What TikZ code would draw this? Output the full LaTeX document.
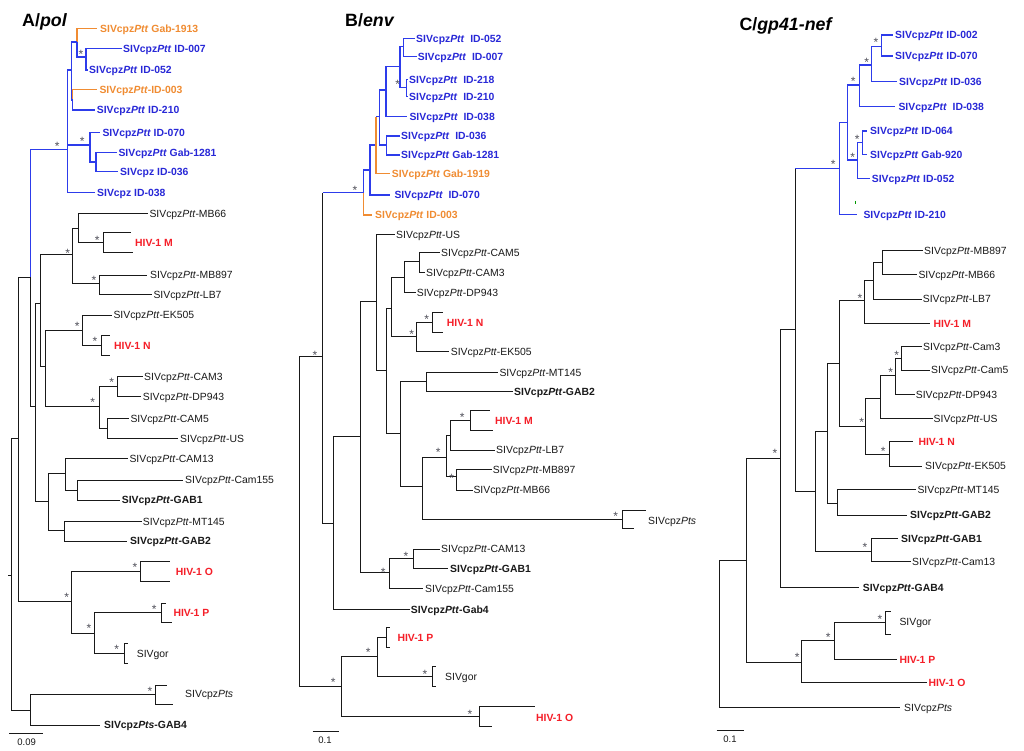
\documentclass[tikz,border=0pt]{standalone}
\usepackage{fontspec}
\setmainfont{Liberation Sans}
\definecolor{tblue}{RGB}{45,60,235}
\definecolor{lblue}{RGB}{40,40,215}
\definecolor{torange}{RGB}{240,140,50}
\definecolor{tred}{RGB}{245,30,40}
\definecolor{tgray}{RGB}{80,80,90}
\definecolor{tblack}{RGB}{25,25,25}
\newcommand\ptt{\textit{Ptt}}
\newcommand\pts{\textit{Pts}}
\newcommand\tedge[3][ln]{\draw[#1] (#2) |- (#3);}
\newcommand\leaf[6]{\coordinate (#1) at (#3,#4); \node[#2] (#1-t) at (#5,#4) {#6};}
\newcommand\st[3]{\node[star] (#1) at (#2,#3) {*};}
\tikzset{
  ln/.style={draw=tblack, line width=1pt},
  bl/.style={draw=tblue, line width=1.2pt},
  or/.style={draw=torange, line width=1.2pt},
  lab/.style={anchor=base west, inner sep=0pt, yshift=-3.7pt, font=\fontsize{10.4}{12}\selectfont},
  klab/.style={lab, text=tblack},
  kblab/.style={lab, text=tblack, font=\fontsize{10.4}{12}\selectfont\bfseries},
  blab/.style={lab, text=lblue, font=\fontsize{10.4}{12}\selectfont\bfseries},
  olab/.style={lab, text=torange, font=\fontsize{10.4}{12}\selectfont\bfseries},
  rlab/.style={lab, text=tred, font=\fontsize{10.4}{12}\selectfont\bfseries},
  star/.style={inner sep=0pt, text=tgray, yshift=-2.6pt, font=\fontsize{12}{12}\selectfont},
  sc/.style={inner sep=0pt, text=tblack, font=\fontsize{9.5}{10}\selectfont},
  title/.style={anchor=base west, inner sep=0pt, text=black, font=\fontsize{17.8}{20}\selectfont\bfseries}
}
\begin{document}
\begin{tikzpicture}[x=1pt,y=-1pt]
\useasboundingbox (0,0) rectangle (1024,750);
\fill[white] (0,0) rectangle (1024,750);

%================ PANEL A =================
\node[title] (tA) at (22,26.7) {A/\textit{pol}};
\leaf{a1913}{olab}{96.7}{28.3}{100}{SIVcpz\ptt{} Gab-1913}
\leaf{a007}{blab}{121.7}{48.3}{123}{SIVcpz\ptt{} ID-007}
\leaf{a052}{blab}{87.5}{70}{89}{SIVcpz\ptt{} ID-052}
\leaf{a003}{olab}{96.7}{89.3}{99.3}{SIVcpz\ptt-ID-003}
\leaf{a210}{blab}{95}{110}{96.7}{SIVcpz\ptt{} ID-210}
\leaf{a070}{blab}{100}{132.3}{102.3}{SIVcpz\ptt{} ID-070}
\leaf{a1281}{blab}{116.7}{152.7}{118.3}{SIVcpz\ptt{} Gab-1281}
\leaf{a036}{blab}{118.3}{171.7}{120}{SIVcpz ID-036}
\leaf{a038}{blab}{95}{192.3}{97}{SIVcpz ID-038}
\coordinate (an1) at (86,57);
\coordinate (anA) at (77,42);
\coordinate (anC) at (72.5,100);
\coordinate (anB) at (71.7,70);
\coordinate (anD) at (96,162);
\coordinate (anE) at (90,145);
\coordinate (anF) at (67.5,149.3);
\coordinate (anI) at (30.7,277.3);
\tedge[bl]{an1}{a007} \tedge[bl]{an1}{a052}
\tedge[or]{anA}{a1913} \tedge[bl]{anA}{an1}
\tedge[or]{anC}{a003} \tedge[bl]{anC}{a210}
\tedge[bl]{anB}{anA} \tedge[bl]{anB}{anC}
\tedge[bl]{anD}{a1281} \tedge[bl]{anD}{a036}
\tedge[bl]{anE}{a070} \tedge[bl]{anE}{anD}
\tedge[bl]{anF}{anB} \tedge[bl]{anF}{anE} \tedge[bl]{anF}{a038}
\tedge[bl]{anI}{anF}

\coordinate (anJ) at (35,406.7);
\coordinate (anL) at (40,303.3);
\coordinate (anMc) at (72.7,254.3);
\coordinate (anM1) at (78.3,228.3);
\coordinate (anHM) at (103.3,242.7);
\coordinate (anM2) at (99.3,283.3);
\coordinate (anN) at (45.7,366.7);
\coordinate (anEK) at (82.7,330);
\coordinate (anHN) at (101.7,345);
\coordinate (anCAM) at (99.3,406.7);
\coordinate (anC3) at (117.3,386.7);
\coordinate (anC5) at (107.3,428.3);
\coordinate (anM) at (48.3,501.7);
\coordinate (anC13) at (65,473.3);
\coordinate (anG1) at (77.3,490);
\coordinate (anMT) at (64,530);
\coordinate (anK) at (18.3,438.3);
\coordinate (anOP) at (71,601.7);
\coordinate (anHO) at (140,571.7);
\coordinate (anPg) at (94.3,633.3);
\coordinate (anHP) at (161,612.7);
\coordinate (anGor) at (124.3,653.3);
\coordinate (anR) at (11.7,575);
\coordinate (aroot) at (8.3,575);
\coordinate (anPts) at (30,710);
\coordinate (anPs) at (155,694);

\leaf{aMB66}{klab}{148.3}{213.3}{149.3}{SIVcpz\ptt-MB66}
\coordinate (aHMa) at (130.7,232.3); \coordinate (aHMb) at (133.3,252.7);
\node[rlab] (aHM) at (135,242.7) {HIV-1 M};
\leaf{aMB897}{klab}{146.7}{275}{150}{SIVcpz\ptt-MB897}
\leaf{aLB7}{klab}{151.7}{294.3}{153.3}{SIVcpz\ptt-LB7}
\leaf{aEK505}{klab}{111.7}{315}{113.3}{SIVcpz\ptt-EK505}
\coordinate (aHNa) at (110,335); \coordinate (aHNb) at (110,355);
\node[rlab] (aHN) at (114,345.5) {HIV-1 N};
\leaf{aCAM3}{klab}{142.7}{376.7}{144}{SIVcpz\ptt-CAM3}
\leaf{aDP943}{klab}{141}{396.7}{142.7}{SIVcpz\ptt-DP943}
\leaf{aCAM5}{klab}{129}{418.3}{130.3}{SIVcpz\ptt-CAM5}
\leaf{aUS}{klab}{178.3}{438.3}{180}{SIVcpz\ptt-US}
\leaf{aCAM13}{klab}{128.3}{458.3}{129.3}{SIVcpz\ptt-CAM13}
\leaf{aCam155}{klab}{183.3}{480}{185}{SIVcpz\ptt-Cam155}
\leaf{aGAB1}{kblab}{120}{500}{121.7}{SIVcpz\ptt-GAB1}
\leaf{aMT145}{klab}{141.7}{521.7}{142.7}{SIVcpz\ptt-MT145}
\leaf{aGAB2}{kblab}{126.7}{541}{130}{SIVcpz\ptt-GAB2}
\coordinate (aHOa) at (170,561.7); \coordinate (aHOb) at (170,581.7);
\node[rlab] (aHO) at (175.7,571.7) {HIV-1 O};
\coordinate (aHPa) at (165.7,603.3); \coordinate (aHPb) at (171.7,622.7);
\node[rlab] (aHP) at (173.3,613) {HIV-1 P};
\coordinate (aGora) at (128.3,643.3); \coordinate (aGorb) at (128.3,663.3);
\node[klab] (aGor) at (136.7,653.3) {SIVgor};
\coordinate (aPsa) at (166.7,685); \coordinate (aPsb) at (173.3,704);
\node[klab] (aPs) at (185,694) {SIVcpz\pts};
\leaf{aGAB4}{kblab}{100}{725}{104}{SIVcpz\pts-GAB4}

\tedge{anI}{anJ}
\tedge{anJ}{anL} \tedge{anJ}{anM}
\tedge{anL}{anMc} \tedge{anL}{anN}
\tedge{anMc}{anM1} \tedge{anMc}{anM2}
\tedge{anM1}{aMB66} \tedge{anM1}{anHM}
\tedge{anHM}{aHMa} \tedge{anHM}{aHMb}
\tedge{anM2}{aMB897} \tedge{anM2}{aLB7}
\tedge{anN}{anEK} \tedge{anN}{anCAM}
\tedge{anEK}{aEK505} \tedge{anEK}{anHN}
\tedge{anHN}{aHNa} \tedge{anHN}{aHNb}
\tedge{anCAM}{anC3} \tedge{anCAM}{anC5}
\tedge{anC3}{aCAM3} \tedge{anC3}{aDP943}
\tedge{anC5}{aCAM5} \tedge{anC5}{aUS}
\tedge{anM}{anC13} \tedge{anM}{anMT}
\tedge{anC13}{aCAM13} \tedge{anC13}{anG1}
\tedge{anG1}{aCam155} \tedge{anG1}{aGAB1}
\tedge{anMT}{aMT145} \tedge{anMT}{aGAB2}
\tedge{anK}{anI} \tedge{anK}{anOP}
\tedge{anOP}{anHO} \tedge{anOP}{anPg}
\tedge{anHO}{aHOa} \tedge{anHO}{aHOb}
\tedge{anPg}{anHP} \tedge{anPg}{anGor}
\tedge{anHP}{aHPa} \tedge{anHP}{aHPb}
\tedge{anGor}{aGora} \tedge{anGor}{aGorb}
\tedge{anR}{anK} \tedge{anR}{anPts}
\draw[ln] (aroot) -- (anR);
\tedge{anPts}{anPs} \tedge{anPts}{aGAB4}
\tedge{anPs}{aPsa} \tedge{anPs}{aPsb}

\st{sa1}{81}{52} \st{sa2}{57.3}{143.3} \st{sa3}{82.3}{138.3}
\st{sa4}{67.7}{250.7} \st{sa5}{97.3}{237.3} \st{sa6}{94}{277.3}
\st{sa7}{77.3}{324} \st{sa8}{95}{338.3} \st{sa9}{111.7}{380}
\st{sa10}{92.7}{400} \st{sa11}{66.7}{595} \st{sa12}{135}{565}
\st{sa13}{89}{626} \st{sa14}{154.3}{606.7} \st{sa15}{116.7}{646.7}
\st{sa16}{150}{688.3}

\coordinate (asb1) at (9.3,733.3); \coordinate (asb2) at (43.3,733.3);
\draw[ln] (asb1) -- (asb2);
\node[sc] (asbl) at (26.7,742) {0.09};

%================ PANEL B =================
\node[title] (tB) at (345,26) {B/\textit{env}};
\leaf{b052}{blab}{415}{38.3}{416}{SIVcpz\ptt\ \ ID-052}
\leaf{b007}{blab}{416.7}{56.7}{417.7}{SIVcpz\ptt\ \ ID-007}
\leaf{b218}{blab}{407.5}{79.3}{409}{SIVcpz\ptt\ \ ID-218}
\leaf{b210}{blab}{407.5}{96.7}{409}{SIVcpz\ptt\ \ ID-210}
\leaf{b038}{blab}{406.7}{116.7}{409.3}{SIVcpz\ptt\ \ ID-038}
\leaf{b036}{blab}{400}{136}{401}{SIVcpz\ptt\ \ ID-036}
\leaf{b1281}{blab}{400}{155}{401}{SIVcpz\ptt{} Gab-1281}
\leaf{b1919}{olab}{390}{173.3}{391.7}{SIVcpz\ptt{} Gab-1919}
\leaf{b070}{blab}{390}{195}{394.3}{SIVcpz\ptt\ \ ID-070}
\leaf{b003}{olab}{371.7}{215}{375}{SIVcpz\ptt{} ID-003}
\coordinate (bn1) at (403.3,46.7);
\coordinate (bn4) at (406.7,87.3);
\coordinate (bn3) at (400,66.7);
\coordinate (bn2) at (386,90);
\coordinate (bn5) at (386.7,145);
\coordinate (bnup) at (379.3,116.7);
\coordinate (bn6) at (376,145);
\coordinate (bn7) at (370,170);
\coordinate (bnR) at (363.3,192.7);
\tedge[bl]{bn1}{b052} \tedge[bl]{bn1}{b007}
\tedge[bl]{bn4}{b218} \tedge[bl]{bn4}{b210}
\tedge[bl]{bn3}{bn1} \tedge[bl]{bn3}{bn4}
\tedge[bl]{bn2}{bn3} \tedge[bl]{bn2}{b038}
\tedge[bl]{bn5}{b036} \tedge[bl]{bn5}{b1281}
\tedge[bl]{bnup}{bn2} \tedge[bl]{bnup}{bn5}
\tedge[bl]{bn7}{bn6} \tedge[bl]{bn7}{b070}
\draw[or] (bn6) -- (bn6 |- bnup);
\draw[bl] (bn6 |- bnup) -- (bnup);
\tedge[or]{bn6}{b1919}
\tedge[bl]{bnR}{bn7} \tedge[or]{bnR}{b003}

\coordinate (bnTop) at (322.7,356.7);
\coordinate (bnB) at (333.3,523.3);
\coordinate (bnC) at (360,436.7);
\coordinate (bnUS) at (376,301.7);
\coordinate (bnX) at (386.7,370);
\coordinate (bnCN) at (391.7,308.3);
\coordinate (bnCAM) at (404,277.3);
\coordinate (bnC5) at (419.3,261.7);
\coordinate (bnNE) at (416.7,336.7);
\coordinate (bnHN) at (432.7,322.7);
\coordinate (bnY) at (400,433.3);
\coordinate (bnMT) at (426,381.7);
\coordinate (bnMc) at (422.7,486.7);
\coordinate (bm1) at (446.7,457.3);
\coordinate (bm2) at (450,435);
\coordinate (bnHM) at (470,420);
\coordinate (bm3) at (456.7,476.7);
\coordinate (bnPs) at (622.7,519.3);
\coordinate (bnC13) at (389.3,572.7);
\coordinate (bnG1) at (413.3,558.3);
\coordinate (bnRoot) at (299.3,520);
\coordinate (bnPO) at (341.7,686);
\coordinate (bnPg) at (377.3,656);
\coordinate (bnHP) at (386,637.7);
\coordinate (bnGor) at (432.7,676);
\coordinate (bnHO) at (479.3,716);

\leaf{bUS}{klab}{395}{234.3}{396}{SIVcpz\ptt-US}
\leaf{bCAM5}{klab}{440}{252.7}{441}{SIVcpz\ptt-CAM5}
\leaf{bCAM3}{klab}{425}{272.7}{426}{SIVcpz\ptt-CAM3}
\leaf{bDP943}{klab}{416}{292.7}{416.7}{SIVcpz\ptt-DP943}
\coordinate (bHNa) at (442.7,312.7); \coordinate (bHNb) at (442.7,332.7);
\node[rlab] (bHN) at (446.7,323) {HIV-1 N};
\leaf{bEK505}{klab}{449.3}{351.7}{450.7}{SIVcpz\ptt-EK505}
\leaf{bMT145}{klab}{498.3}{372.7}{499.3}{SIVcpz\ptt-MT145}
\leaf{bGAB2}{kblab}{512.7}{391.7}{514}{SIVcpz\ptt-GAB2}
\coordinate (bHMa) at (490,410.7); \coordinate (bHMb) at (493.3,430.7);
\node[rlab] (bHM) at (495,421) {HIV-1 M};
\leaf{bLB7}{klab}{495}{450}{496}{SIVcpz\ptt-LB7}
\leaf{bMB897}{klab}{491.7}{469.3}{492.7}{SIVcpz\ptt-MB897}
\leaf{bMB66}{klab}{472.7}{490}{473.3}{SIVcpz\ptt-MB66}
\coordinate (bPsa) at (646,510); \coordinate (bPsb) at (634,528.3);
\node[klab] (bPs) at (648,520.5) {SIVcpz\pts};
\leaf{bCAM13}{klab}{440}{549}{441}{SIVcpz\ptt-CAM13}
\leaf{bGAB1}{kblab}{448.3}{568.3}{450}{SIVcpz\ptt-GAB1}
\leaf{bCam155}{klab}{423.3}{588.3}{425}{SIVcpz\ptt-Cam155}
\leaf{bGab4}{kblab}{410}{609.3}{410.7}{SIVcpz\ptt-Gab4}
\coordinate (bHPa) at (390,627.3); \coordinate (bHPb) at (390,647.3);
\node[rlab] (bHP) at (397.3,638) {HIV-1 P};
\coordinate (bGora) at (436,666.7); \coordinate (bGorb) at (436,686);
\node[klab] (bGor) at (445,676.5) {SIVgor};
\coordinate (bHOa) at (535,706); \coordinate (bHOb) at (491.7,726);
\node[rlab] (bHO) at (536,717.3) {HIV-1 O};

\draw[ln] (bnTop) -- (bnTop |- bnR);
\draw[bl] (bnTop |- bnR) -- (bnR);
\tedge{bnTop}{bnB}
\tedge{bnB}{bnC} \tedge{bnB}{bGab4}
\tedge{bnC}{bnUS} \tedge{bnC}{bnC13}
\tedge{bnUS}{bUS} \tedge{bnUS}{bnX}
\tedge{bnX}{bnCN} \tedge{bnX}{bnY}
\tedge{bnCN}{bnCAM} \tedge{bnCN}{bnNE}
\tedge{bnCAM}{bnC5} \tedge{bnCAM}{bDP943}
\tedge{bnC5}{bCAM5} \tedge{bnC5}{bCAM3}
\tedge{bnNE}{bnHN} \tedge{bnNE}{bEK505}
\tedge{bnHN}{bHNa} \tedge{bnHN}{bHNb}
\tedge{bnY}{bnMT} \tedge{bnY}{bnMc}
\tedge{bnMT}{bMT145} \tedge{bnMT}{bGAB2}
\tedge{bnMc}{bm1} \tedge{bnMc}{bnPs}
\tedge{bm1}{bm2} \tedge{bm1}{bm3}
\tedge{bm2}{bnHM} \tedge{bm2}{bLB7}
\tedge{bnHM}{bHMa} \tedge{bnHM}{bHMb}
\tedge{bm3}{bMB897} \tedge{bm3}{bMB66}
\tedge{bnPs}{bPsa} \tedge{bnPs}{bPsb}
\tedge{bnC13}{bnG1} \tedge{bnC13}{bCam155}
\tedge{bnG1}{bCAM13} \tedge{bnG1}{bGAB1}
\tedge{bnRoot}{bnTop} \tedge{bnRoot}{bnPO}
\tedge{bnPO}{bnPg} \tedge{bnPO}{bnHO}
\tedge{bnPg}{bnHP} \tedge{bnPg}{bnGor}
\tedge{bnHP}{bHPa} \tedge{bnHP}{bHPb}
\tedge{bnGor}{bGora} \tedge{bnGor}{bGorb}
\tedge{bnHO}{bHOa} \tedge{bnHO}{bHOb}

\st{sb1}{397.7}{81.7} \st{sb2}{355}{187.3} \st{sb3}{315}{352.7}
\st{sb4}{411.7}{331.7} \st{sb5}{426.7}{316.7} \st{sb6}{438.3}{450}
\st{sb7}{462.3}{415} \st{sb8}{451.7}{476} \st{sb9}{615.7}{513.3}
\st{sb10}{383.3}{569.3} \st{sb11}{406}{553.3} \st{sb12}{333.3}{680}
\st{sb13}{368.3}{650} \st{sb14}{425}{671.7} \st{sb15}{470}{711.7}

\coordinate (bsb1) at (312.7,731.7); \coordinate (bsb2) at (339.3,731.7);
\draw[ln] (bsb1) -- (bsb2);
\node[sc] (bsbl) at (325,740.5) {0.1};

%================ PANEL C =================
\node[title] (tC) at (739.3,30.7) {C/\textit{gp41-nef}};
\leaf{c002}{blab}{893.3}{35}{895}{SIVcpz\ptt{} ID-002}
\leaf{c070}{blab}{893.3}{56}{895}{SIVcpz\ptt{} ID-070}
\leaf{c036}{blab}{896.7}{81.7}{899}{SIVcpz\ptt{} ID-036}
\leaf{c038}{blab}{895}{106.7}{898.3}{SIVcpz\ptt\ \ ID-038}
\leaf{c064}{blab}{866.7}{131}{870}{SIVcpz\ptt{} ID-064}
\leaf{c920}{blab}{866.7}{154.3}{870}{SIVcpz\ptt{} Gab-920}
\leaf{c052}{blab}{870}{178.3}{871.7}{SIVcpz\ptt{} ID-052}
\leaf{c210}{blab}{856.7}{214.3}{863.3}{SIVcpz\ptt{} ID-210}
\coordinate (cn1) at (881.7,46.7);
\coordinate (cn2) at (871.7,65);
\coordinate (cn3) at (859.3,85);
\coordinate (cn5a) at (862.3,142.7);
\coordinate (cn5) at (857.7,160);
\coordinate (cn4) at (847.7,122.7);
\coordinate (cn6) at (839.3,168.3);
\tedge[bl]{cn1}{c002} \tedge[bl]{cn1}{c070}
\tedge[bl]{cn2}{cn1} \tedge[bl]{cn2}{c036}
\tedge[bl]{cn3}{cn2} \tedge[bl]{cn3}{c038}
\tedge[bl]{cn5a}{c064} \tedge[bl]{cn5a}{c920}
\tedge[bl]{cn5}{cn5a} \tedge[bl]{cn5}{c052}
\tedge[bl]{cn4}{cn3} \tedge[bl]{cn4}{cn5}
\tedge[bl]{cn6}{cn4} \tedge[bl]{cn6}{c210}
\coordinate (ctk1) at (855.7,200.5); \coordinate (ctk2) at (855.7,203.5);
\draw[draw=green!60!black, line width=1pt] (ctk1) -- (ctk2);

\coordinate (cB) at (795,329);
\coordinate (cnD) at (815,491.7);
\coordinate (cnE) at (827.7,431.7);
\coordinate (cnMN) at (839.3,363.3);
\coordinate (cnM) at (864.3,300.7);
\coordinate (cnLB) at (873.3,280);
\coordinate (cnMB) at (882.3,262.3);
\coordinate (cnN) at (865.7,426.7);
\coordinate (cnUS) at (880,398.3);
\coordinate (cnDP) at (895,375.7);
\coordinate (cnC3) at (901.7,358.3);
\coordinate (cnEK) at (889,454.3);
\coordinate (cnMT) at (837.3,503.3);
\coordinate (cnG1) at (871,551.7);
\coordinate (cnA) at (780.7,458.3);
\coordinate (cnRoot2) at (746.7,560.7);
\coordinate (cnPO) at (801.7,662.3);
\coordinate (cnPg) at (834,640);
\coordinate (cnGor) at (885,622.7);
\coordinate (cnRoot) at (719.3,634);

\leaf{cMB897}{klab}{922.7}{250.7}{924}{SIVcpz\ptt-MB897}
\leaf{cMB66}{klab}{916.7}{274.3}{918.3}{SIVcpz\ptt-MB66}
\leaf{cLB7}{klab}{921.7}{299}{922.7}{SIVcpz\ptt-LB7}
\leaf{cHM}{rlab}{930}{323.3}{933.3}{HIV-1 M}
\leaf{cCam3}{klab}{922}{346.7}{923}{SIVcpz\ptt-Cam3}
\leaf{cCam5}{klab}{930}{370}{931}{SIVcpz\ptt-Cam5}
\leaf{cDP943}{klab}{915}{394.3}{915.7}{SIVcpz\ptt-DP943}
\leaf{cUS}{klab}{932.5}{418.3}{933.5}{SIVcpz\ptt-US}
\leaf{cHN}{rlab}{913.3}{441.7}{918.3}{HIV-1 N}
\leaf{cEK505}{klab}{921.7}{466}{925}{SIVcpz\ptt-EK505}
\leaf{cMT145}{klab}{916}{489.3}{917.3}{SIVcpz\ptt-MT145}
\leaf{cGAB2}{kblab}{906.7}{515}{910}{SIVcpz\ptt-GAB2}
\leaf{cGAB1}{kblab}{898.3}{538.3}{901}{SIVcpz\ptt-GAB1}
\leaf{cCam13}{klab}{911}{561.7}{912}{SIVcpz\ptt-Cam13}
\leaf{cGAB4}{kblab}{859.3}{587.3}{862.7}{SIVcpz\ptt-GAB4}
\coordinate (cGora) at (890.7,611); \coordinate (cGorb) at (890.7,634.3);
\node[klab] (cGor) at (899.3,621.5) {SIVgor};
\leaf{cHP}{rlab}{896.7}{659.3}{899.3}{HIV-1 P}
\leaf{cHO}{rlab}{926.7}{682.7}{928.3}{HIV-1 O}
\leaf{cPts}{klab}{900}{707.7}{904}{SIVcpz\pts}

\draw[ln] (cB) -- (cB |- cn6);
\draw[bl] (cB |- cn6) -- (cn6);
\tedge{cB}{cnD}
\tedge{cnD}{cnE} \tedge{cnD}{cnG1}
\tedge{cnE}{cnMN} \tedge{cnE}{cnMT}
\tedge{cnMN}{cnM} \tedge{cnMN}{cnN}
\tedge{cnM}{cnLB} \tedge{cnM}{cHM}
\tedge{cnLB}{cnMB} \tedge{cnLB}{cLB7}
\tedge{cnMB}{cMB897} \tedge{cnMB}{cMB66}
\tedge{cnN}{cnUS} \tedge{cnN}{cnEK}
\tedge{cnUS}{cnDP} \tedge{cnUS}{cUS}
\tedge{cnDP}{cnC3} \tedge{cnDP}{cDP943}
\tedge{cnC3}{cCam3} \tedge{cnC3}{cCam5}
\tedge{cnEK}{cHN} \tedge{cnEK}{cEK505}
\tedge{cnMT}{cMT145} \tedge{cnMT}{cGAB2}
\tedge{cnG1}{cGAB1} \tedge{cnG1}{cCam13}
\tedge{cnA}{cB} \tedge{cnA}{cGAB4}
\tedge{cnRoot2}{cnA} \tedge{cnRoot2}{cnPO}
\tedge{cnPO}{cnPg} \tedge{cnPO}{cHO}
\tedge{cnPg}{cnGor} \tedge{cnPg}{cHP}
\tedge{cnGor}{cGora} \tedge{cnGor}{cGorb}
\tedge{cnRoot}{cnRoot2} \tedge{cnRoot}{cPts}

\st{sc1}{876}{39.3} \st{sc2}{866.7}{59.3} \st{sc3}{853.3}{78.3}
\st{sc4}{857.3}{136.7} \st{sc5}{852.7}{155} \st{sc6}{833.3}{161.7}
\st{sc7}{860}{296} \st{sc8}{896.7}{352.7} \st{sc9}{890.7}{369.3}
\st{sc10}{861.7}{420} \st{sc11}{883.3}{448.3} \st{sc12}{775}{451}
\st{sc13}{865}{545} \st{sc14}{880}{616.7} \st{sc15}{828.3}{634.3}
\st{sc16}{797.3}{655}

\coordinate (csb1) at (716.7,730); \coordinate (csb2) at (744,730);
\draw[ln] (csb1) -- (csb2);
\node[sc] (csbl) at (730,739.5) {0.1};
\end{tikzpicture}
\end{document}
